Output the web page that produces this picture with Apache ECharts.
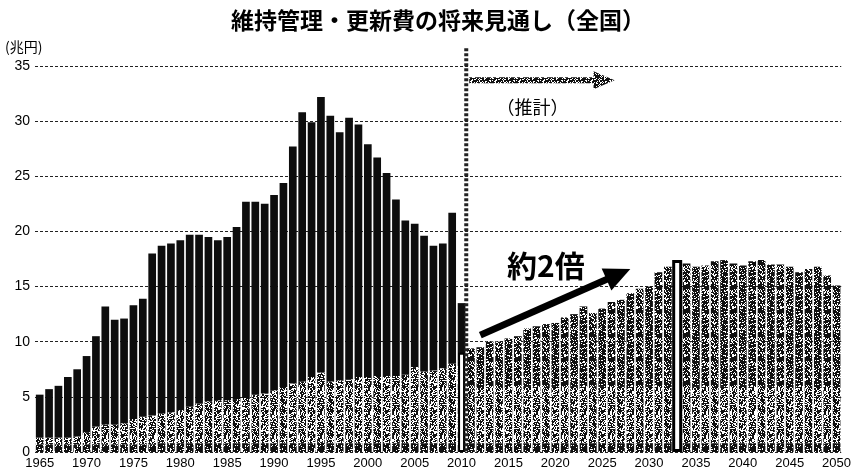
<!DOCTYPE html>
<html>
<head>
<meta charset="utf-8">
<script src="https://cdn.jsdelivr.net/npm/echarts@6/dist/echarts.min.js"></script>
<style>
  html, body { margin: 0; padding: 0; background: #fff; }
  #main { width: 854px; height: 472px; }
</style>
</head>
<body>
<div id="main"></div>
<script>
// 年度 (カテゴリ)
const startYear = 1965
const endYear = 2050
const years = []
for (let y = startYear; y <= endYear; y++) years.push(String(y))

// 実績 1965-2010 : 棒の高さ(合計), 淡い網部分の上端, 下部の濃い帯
const pastTotal = [
  5.2, 5.7, 6.0, 6.8, 7.5, 8.7, 10.5, 13.2, 12.0, 12.1,
  13.3, 13.9, 18.0, 18.7, 18.9, 19.2, 19.7, 19.7, 19.5, 19.2,
  19.5, 20.4, 22.7, 22.7, 22.5, 23.3, 24.4, 27.7, 30.8, 29.9,
  32.2, 30.5, 29.0, 30.3, 29.7, 27.9, 26.7, 25.3, 22.9, 21.0,
  20.7, 19.6, 18.7, 18.9, 21.7, 13.5
]
const pastMaintTop = [
  1.3, 1.3, 1.3, 1.3, 1.4, 1.8, 2.3, 2.5, 2.5, 2.6,
  3.0, 3.2, 3.3, 3.5, 3.6, 3.8, 4.1, 4.4, 4.6, 4.7,
  4.7, 4.8, 4.9, 5.2, 5.3, 5.6, 5.9, 6.2, 6.4, 6.8,
  7.2, 6.4, 6.5, 6.6, 6.8, 6.8, 6.9, 6.9, 6.9, 7.0,
  7.7, 7.3, 7.4, 7.6, 8.0, 8.3
]
const pastBase = [
  0.7, 0.7, 0.7, 0.7, 0.7, 0.7, 0.7, 0.7, 0.7, 0.7,
  0.7, 0.7, 0.7, 0.8, 0.8, 0.8, 0.8, 0.8, 0.8, 0.8,
  0.8, 0.8, 0.8, 0.8, 0.8, 0.8, 0.8, 0.8, 0.8, 0.8,
  0.9, 0.8, 0.8, 0.8, 0.8, 0.8, 0.8, 0.8, 0.8, 0.8,
  0.8, 0.8, 0.8, 0.8, 0.8, 0.8
]

// 推計 2011-2050
const futureTotal = [
  9.4, 9.5, 10.0, 10.0, 10.3, 10.5, 11.2, 11.4, 11.6, 11.7,
  12.2, 12.5, 13.2, 12.6, 13.0, 13.6, 13.8, 14.4, 14.8, 15.0,
  16.3, 16.8, 17.3, 17.1, 16.8, 16.9, 17.3, 17.4, 17.1, 16.9,
  17.3, 17.4, 17.0, 17.0, 16.8, 16.3, 16.6, 16.8, 16.0, 15.1
]
const futureMaintTop = [
  5.8, 5.8, 5.8, 5.8, 5.8, 5.9, 5.9, 5.9, 5.9, 5.9,
  5.9, 5.9, 5.9, 5.9, 5.9, 5.9, 5.9, 5.9, 5.9, 5.9,
  5.9, 5.9, 5.9, 5.9, 5.9, 5.9, 5.9, 5.9, 5.9, 5.9,
  5.9, 5.9, 5.9, 5.9, 5.9, 5.9, 5.9, 5.9, 5.9, 5.9
]
const futureBase = [
  0.8, 0.8, 0.8, 0.8, 0.8, 0.8, 0.8, 0.8, 0.8, 0.8,
  0.8, 0.8, 0.8, 0.8, 0.8, 0.8, 0.8, 0.8, 0.8, 0.8,
  0.8, 0.8, 0.8, 0.8, 0.8, 0.8, 0.8, 0.8, 0.8, 0.8,
  0.8, 0.8, 0.8, 0.8, 0.8, 0.8, 0.8, 0.8, 0.8, 0.8
]

// 比較用の白抜き棒
const highlightYears = ['2010', '2033']
const highlightValues = [9.0, 17.4]

const yTicks = [0, 5, 10, 15, 20, 25, 30, 35]

const total = pastTotal.concat(futureTotal)
const maintTop = pastMaintTop.concat(futureMaintTop)
const base = pastBase.concat(futureBase)
const nPast = pastTotal.length
const maint = maintTop.map((v, i) => +(v - base[i]).toFixed(2))
const newBuild = total.map((v, i) => i < nPast ? +(v - maintTop[i]).toFixed(2) : null)
const renew = total.map((v, i) => i >= nPast ? +(v - maintTop[i]).toFixed(2) : null)
const hlData = (k) => years.map(y => y === highlightYears[k] ? highlightValues[k] : null)

// 網かけ風テクスチャ (固定ハッシュ)
function texture (density, seed) {
  const n = 24
  const c = document.createElement('canvas')
  c.width = n
  c.height = n
  const ctx = c.getContext('2d')
  ctx.fillStyle = '#fff'
  ctx.fillRect(0, 0, n, n)
  ctx.fillStyle = '#111'
  for (let y = 0; y < n; y++) {
    for (let x = 0; x < n; x++) {
      const s = Math.sin(x * 12.9898 + y * 78.233 + seed * 37.719) * 43758.5453
      const h = s - Math.floor(s)
      if (h < density) ctx.fillRect(x, y, 1, 1)
    }
  }
  return { image: c, repeat: 'repeat' }
}

const jp = '"Noto Sans CJK JP", sans-serif'
const num = '"Liberation Sans", Arial, sans-serif'

const chart = echarts.init(document.getElementById('main'), null, { renderer: 'canvas' })

const option = {
  animation: false,
  backgroundColor: '#fff',
  grid: { left: 35, right: 9, top: 66, bottom: 20 },
  xAxis: [
    {
      type: 'category',
      data: years,
      axisLine: { show: false },
      axisTick: { show: false },
      axisLabel: {
        interval: (i, v) => Number(v) % 5 === 0,
        color: '#000',
        fontSize: 13,
        fontFamily: num,
        margin: 5
      }
    },
    { type: 'category', data: years, show: false },
    { type: 'category', data: years, show: false }
  ],
  yAxis: {
    type: 'value',
    min: yTicks[0],
    max: yTicks[yTicks.length - 1],
    interval: 5,
    axisLine: { show: false },
    axisTick: { show: false },
    axisLabel: { color: '#000', fontSize: 14, fontFamily: num, margin: 5 },
    splitLine: { lineStyle: { color: '#222', width: 1, type: [3, 2] } }
  },
  series: [
    {
      name: '災害復旧費',
      type: 'bar',
      stack: 'a',
      barCategoryGap: '18%',
      data: base,
      itemStyle: { color: texture(0.85, 1) }
    },
    {
      name: '維持管理費',
      type: 'bar',
      stack: 'a',
      data: maint,
      itemStyle: { color: texture(0.56, 2) }
    },
    {
      name: '新設費',
      type: 'bar',
      stack: 'a',
      data: newBuild,
      itemStyle: { color: '#0d0d0d' }
    },
    {
      name: '更新費',
      type: 'bar',
      stack: 'a',
      data: renew,
      itemStyle: { color: texture(0.7, 3) }
    },
    {
      name: '2010',
      type: 'bar',
      xAxisIndex: 1,
      barWidth: 7,
      data: hlData(0),
      itemStyle: { color: '#fff', borderColor: '#000', borderWidth: 2 }
    },
    {
      name: '2033',
      type: 'bar',
      xAxisIndex: 2,
      barWidth: 10,
      data: hlData(1),
      itemStyle: { color: '#fff', borderColor: '#000', borderWidth: 3 }
    }
  ]
}
chart.setOption(option)

// 注記はデータ座標から位置を求める
const px = (year, v) => chart.convertToPixel({ xAxisIndex: 0, yAxisIndex: 0 }, [year, v])

const divX = (px('2010', 0)[0] + px('2011', 0)[0]) / 2
const divTop = px('2010', 36.6)[1]
const divBottom = px('2010', 0)[1]

function arrow (from, to, width, headLen, headHalf, fill) {
  const dx = to[0] - from[0]
  const dy = to[1] - from[1]
  const len = Math.sqrt(dx * dx + dy * dy)
  const ux = dx / len
  const uy = dy / len
  const bx = to[0] - ux * headLen
  const by = to[1] - uy * headLen
  return [
    {
      type: 'line',
      shape: { x1: from[0], y1: from[1], x2: bx + ux * 2, y2: by + uy * 2 },
      style: { stroke: fill, lineWidth: width },
      z: 100
    },
    {
      type: 'polygon',
      shape: { points: [[to[0], to[1]], [bx - uy * headHalf, by + ux * headHalf], [bx + uy * headHalf, by - ux * headHalf]] },
      style: { fill: fill },
      z: 100
    }
  ]
}

const bigFrom = px('2012', 10.6)
const bigTo = px('2028', 16.6)
const estY = px('2010', 33.7)[1]
const estFrom = [divX + 3, estY]
const estTo = [px('2026', 0)[0] + 3, estY]
const ratioPos = px('2019', 16.9)
const estTextPos = px('2018', 31.3)

chart.setOption({
  graphic: [
    {
      type: 'text',
      x: 438,
      y: 20,
      style: {
        text: '維持管理・更新費の将来見通し（全国）',
        font: 'bold 23px ' + jp,
        fill: '#000',
        textAlign: 'center',
        textVerticalAlign: 'middle'
      }
    },
    {
      type: 'text',
      x: 5,
      y: 47,
      style: { text: '(兆円)', font: '14px ' + jp, fill: '#000', textVerticalAlign: 'middle' }
    },
    {
      type: 'line',
      shape: { x1: divX, y1: divTop, x2: divX, y2: divBottom },
      style: { stroke: '#222', lineWidth: 4, lineDash: [3, 2] },
      z: 90
    },
    ...arrow(estFrom, estTo, 6, 21, 9, texture(0.72, 4)),
    {
      type: 'text',
      x: estTextPos[0] - 4,
      y: estTextPos[1],
      style: { text: '（推計）', font: '18px ' + jp, fill: '#000', textAlign: 'center', textVerticalAlign: 'middle' },
      z: 100
    },
    ...arrow(bigFrom, bigTo, 7, 26, 12, '#000'),
    {
      type: 'text',
      x: ratioPos[0],
      y: ratioPos[1],
      style: { text: '約2倍', font: 'bold 30px ' + jp, fill: '#000', textAlign: 'center', textVerticalAlign: 'middle' },
      z: 100
    }
  ]
})
</script>
</body>
</html>
